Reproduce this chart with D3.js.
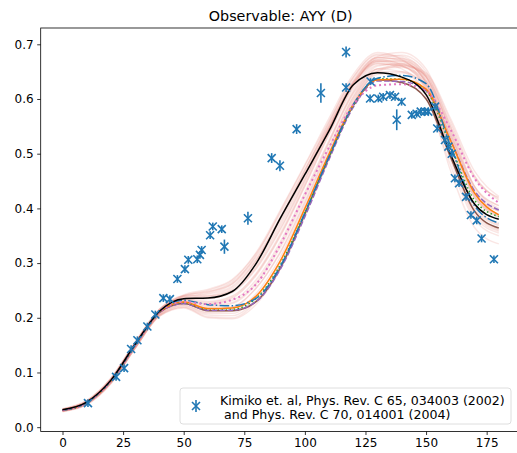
<!DOCTYPE html>
<html>
<head>
  <meta charset="utf-8">
  <script src="https://d3js.org/d3.v7.min.js"></script>
  <style>
    body { margin: 0; background: #fff; }
    text { font-family: "DejaVu Sans", sans-serif; }
    .axis text { font-size: 12px; fill: #000; }
    .axis path, .axis line { stroke: #000; stroke-width: 0.8px; }
  </style>
</head>
<body>
<div id="plot"></div>
<script type="text/javascript">
// angles of the model curves (deg)
var angles = [0, 10, 20, 30, 40, 50, 60, 70, 80, 90, 100, 110, 120, 130, 140, 150, 160, 170, 180];

// highlighted model curves
var blackCurve  = [0.032, 0.046, 0.086, 0.152, 0.212, 0.235, 0.236, 0.248, 0.300, 0.383, 0.462, 0.542, 0.626, 0.648, 0.640, 0.608, 0.500, 0.408, 0.380];
var orangeCurve = [0.031, 0.045, 0.085, 0.150, 0.211, 0.229, 0.217, 0.218, 0.240, 0.305, 0.400, 0.500, 0.590, 0.635, 0.636, 0.618, 0.525, 0.428, 0.388];
var blueCurve   = [0.031, 0.045, 0.085, 0.150, 0.212, 0.232, 0.224, 0.222, 0.236, 0.295, 0.392, 0.495, 0.590, 0.638, 0.643, 0.628, 0.515, 0.405, 0.373];
var greenCurve  = [0.031, 0.045, 0.085, 0.150, 0.211, 0.228, 0.216, 0.216, 0.236, 0.298, 0.392, 0.495, 0.588, 0.637, 0.636, 0.615, 0.515, 0.415, 0.385];
var purpleCurve = [0.031, 0.045, 0.085, 0.150, 0.210, 0.226, 0.214, 0.214, 0.230, 0.290, 0.385, 0.490, 0.585, 0.633, 0.632, 0.615, 0.525, 0.432, 0.397];
var brownCurve  = [0.031, 0.045, 0.085, 0.150, 0.210, 0.226, 0.213, 0.213, 0.230, 0.292, 0.390, 0.495, 0.588, 0.635, 0.630, 0.600, 0.495, 0.395, 0.364];
var pinkCurve   = [0.031, 0.045, 0.085, 0.150, 0.211, 0.229, 0.225, 0.233, 0.262, 0.335, 0.425, 0.512, 0.590, 0.625, 0.627, 0.615, 0.545, 0.455, 0.410];

// ensemble of sampled curves (light)
var ensemble = [
  [0.030,0.044,0.084,0.150,0.212,0.238,0.245,0.262,0.315,0.395,0.478,0.560,0.640,0.680,0.675,0.640,0.545,0.440,0.405],
  [0.033,0.047,0.087,0.153,0.214,0.242,0.252,0.270,0.320,0.398,0.480,0.565,0.645,0.685,0.672,0.630,0.520,0.420,0.390],
  [0.029,0.043,0.082,0.146,0.206,0.225,0.215,0.220,0.255,0.320,0.410,0.510,0.605,0.660,0.665,0.640,0.550,0.455,0.420],
  [0.031,0.045,0.085,0.150,0.210,0.230,0.225,0.232,0.270,0.340,0.430,0.525,0.615,0.665,0.660,0.625,0.520,0.420,0.385],
  [0.034,0.049,0.090,0.156,0.216,0.240,0.240,0.250,0.295,0.370,0.455,0.545,0.625,0.670,0.668,0.630,0.500,0.395,0.360],
  [0.028,0.041,0.080,0.144,0.203,0.218,0.200,0.198,0.225,0.290,0.385,0.490,0.590,0.650,0.660,0.645,0.560,0.460,0.415],
  [0.032,0.046,0.086,0.152,0.212,0.233,0.230,0.240,0.282,0.355,0.445,0.540,0.625,0.675,0.680,0.650,0.540,0.430,0.395],
  [0.030,0.044,0.083,0.148,0.208,0.228,0.220,0.226,0.262,0.330,0.420,0.520,0.610,0.655,0.650,0.605,0.480,0.380,0.350],
  [0.033,0.048,0.089,0.155,0.215,0.240,0.247,0.265,0.312,0.385,0.465,0.548,0.628,0.665,0.655,0.610,0.490,0.385,0.355],
  [0.029,0.042,0.081,0.145,0.205,0.222,0.208,0.208,0.240,0.305,0.398,0.500,0.597,0.650,0.650,0.620,0.510,0.405,0.370],
  [0.031,0.045,0.085,0.151,0.211,0.233,0.235,0.246,0.290,0.362,0.450,0.545,0.630,0.678,0.685,0.655,0.550,0.440,0.400],
  [0.032,0.046,0.087,0.153,0.213,0.236,0.238,0.252,0.300,0.375,0.460,0.550,0.632,0.672,0.662,0.615,0.470,0.365,0.335],
  [0.030,0.043,0.083,0.147,0.207,0.226,0.217,0.220,0.255,0.322,0.413,0.512,0.603,0.655,0.658,0.632,0.530,0.425,0.385],
  [0.033,0.047,0.088,0.154,0.214,0.238,0.243,0.258,0.305,0.382,0.468,0.555,0.636,0.676,0.670,0.628,0.505,0.400,0.368],
  [0.029,0.042,0.081,0.145,0.204,0.220,0.205,0.204,0.233,0.298,0.390,0.492,0.592,0.645,0.648,0.625,0.535,0.440,0.405],
  [0.031,0.045,0.084,0.149,0.209,0.230,0.226,0.236,0.278,0.350,0.440,0.535,0.620,0.668,0.670,0.640,0.530,0.425,0.388],
  [0.031,0.045,0.086,0.152,0.213,0.236,0.240,0.255,0.305,0.385,0.470,0.558,0.640,0.682,0.678,0.642,0.535,0.430,0.395],
  [0.030,0.043,0.082,0.146,0.205,0.223,0.210,0.212,0.245,0.312,0.405,0.505,0.600,0.655,0.662,0.642,0.555,0.458,0.418],
  [0.032,0.047,0.088,0.154,0.215,0.240,0.250,0.268,0.318,0.392,0.472,0.552,0.630,0.668,0.660,0.620,0.500,0.395,0.362],
  [0.030,0.044,0.084,0.149,0.209,0.229,0.222,0.228,0.265,0.335,0.425,0.522,0.612,0.662,0.664,0.635,0.528,0.422,0.383],
  [0.033,0.048,0.089,0.155,0.215,0.241,0.248,0.262,0.308,0.380,0.462,0.548,0.632,0.676,0.672,0.634,0.515,0.408,0.372],
  [0.029,0.042,0.080,0.144,0.203,0.219,0.202,0.200,0.230,0.295,0.388,0.492,0.593,0.652,0.662,0.648,0.565,0.468,0.422],
  [0.031,0.045,0.085,0.151,0.211,0.232,0.228,0.238,0.280,0.352,0.442,0.538,0.624,0.672,0.674,0.645,0.542,0.435,0.398],
  [0.032,0.046,0.086,0.152,0.212,0.235,0.236,0.248,0.292,0.365,0.452,0.545,0.628,0.670,0.665,0.622,0.498,0.390,0.358]
];

// measured data (Kimiko et al.)
var dataAngle = [10.5, 22.1, 25.4, 28.3, 30.9, 35.0, 38.3, 41.6, 44.3, 47.4, 50.5, 51.9, 55.6, 56.7, 57.4,
  60.9, 62.0, 65.7, 66.8, 76.5, 86.3, 89.7, 96.6, 106.6, 117.0, 117.0, 127.1, 126.9, 130.3, 132.3,
  135.1, 137.2, 139.9, 137.9, 144.1, 146.1, 147.8, 149.5, 150.9, 153.7, 154.6, 157.8, 159.2, 160.6,
  161.9, 163.6, 166.5, 168.5, 170.9, 172.9, 178.0];
var dataValue = [0.044, 0.092, 0.108, 0.143, 0.159, 0.184, 0.206, 0.236, 0.234, 0.271, 0.289, 0.306, 0.307, 0.315, 0.324,
  0.351, 0.367, 0.362, 0.330, 0.382, 0.492, 0.478, 0.545, 0.611, 0.686, 0.621, 0.632, 0.601, 0.601, 0.604,
  0.607, 0.604, 0.595, 0.562, 0.571, 0.573, 0.577, 0.577, 0.577, 0.586, 0.546, 0.525, 0.513, 0.500,
  0.455, 0.446, 0.421, 0.388, 0.378, 0.345, 0.307];
var dataError = [0.007, 0.007, 0.007, 0.007, 0.007, 0.007, 0.007, 0.007, 0.007, 0.007, 0.007, 0.007, 0.007, 0.007, 0.007,
  0.007, 0.007, 0.007, 0.013, 0.012, 0.009, 0.010, 0.009, 0.018, 0.010, 0.008, 0.006, 0.007, 0.007, 0.007,
  0.007, 0.007, 0.007, 0.019, 0.007, 0.007, 0.007, 0.007, 0.007, 0.007, 0.007, 0.007, 0.007, 0.007,
  0.007, 0.007, 0.007, 0.007, 0.007, 0.007, 0.007];

var xTicks = [0, 25, 50, 75, 100, 125, 150, 175];
var yTicks = [0.0, 0.1, 0.2, 0.3, 0.4, 0.5, 0.6, 0.7];

var W = 517, H = 453;
var margin = {top: 28, right: -3.6, bottom: 21.5, left: 40.7},
    width = W - margin.left - margin.right,
    height = H - margin.top - margin.bottom;

var svg = d3.select('#plot')
  .append('svg')
  .attr('width', W)
  .attr('height', H);

svg.append('text')
  .attr('x', margin.left + 240)
  .attr('y', 21)
  .style('text-anchor', 'middle')
  .style('font-size', '14.3px')
  .text('Observable: AYY (D)');

var g = svg.append('g')
  .attr('transform', 'translate(' + margin.left + ',' + margin.top + ')');

var xScale = d3.scaleLinear().domain([-9, 189]).range([0, width]);
var yScale = d3.scaleLinear().domain([-0.0079, 0.7298]).range([height, 0]);

var line = d3.line()
  .x(function(d, i){ return xScale(angles[i]); })
  .y(function(d){ return yScale(d); })
  .curve(d3.curveMonotoneX);

g.selectAll('.ens')
  .data(ensemble)
  .enter().append('path')
  .attr('class', 'ens')
  .attr('d', line)
  .attr('fill', 'none')
  .attr('stroke', '#e8837a')
  .attr('stroke-opacity', 0.2)
  .attr('stroke-width', 1.4);

var models = [
  {v: brownCurve,  c: '#8c564b', dash: null, w: 1.5},
  {v: purpleCurve, c: '#9467bd', dash: '5.5,2.4', w: 1.5},
  {v: greenCurve,  c: '#2ca02c', dash: '1.5,2.5', w: 1.5},
  {v: orangeCurve, c: '#ff7f0e', dash: null, w: 1.5},
  {v: blueCurve,   c: '#1f77b4', dash: '9.6,2.4,1.5,2.4', w: 1.5},
  {v: pinkCurve,   c: '#e377c2', dash: '2,3', w: 2},
  {v: blackCurve,  c: '#000000', dash: null, w: 1.5}
];

g.selectAll('.model')
  .data(models)
  .enter().append('path')
  .attr('class', 'model')
  .attr('d', function(d){ return line(d.v); })
  .attr('fill', 'none')
  .attr('stroke', function(d){ return d.c; })
  .attr('stroke-dasharray', function(d){ return d.dash; })
  .attr('stroke-width', function(d){ return d.w; });

// data with error bars
var pts = dataAngle.map(function(a, i){ return {x: a, y: dataValue[i], e: dataError[i]}; });
var blue = '#1f77b4';

var pt = g.selectAll('.pt')
  .data(pts)
  .enter().append('g')
  .attr('class', 'pt')
  .attr('transform', function(d){ return 'translate(' + xScale(d.x) + ',' + yScale(d.y) + ')'; });

pt.append('line')
  .attr('x1', 0).attr('x2', 0)
  .attr('y1', function(d){ return yScale(d.y + d.e) - yScale(d.y); })
  .attr('y2', function(d){ return yScale(d.y - d.e) - yScale(d.y); })
  .attr('stroke', blue).attr('stroke-width', 1.6);

function cross(sel){
  sel.append('path')
    .attr('d', 'M-4,-4L4,4M-4,4L4,-4')
    .attr('stroke', blue).attr('stroke-width', 1.6).attr('fill', 'none');
}
cross(pt);

// axes
var xAxis = d3.axisBottom(xScale).tickValues(xTicks).tickSize(3.5).tickPadding(3.5).tickFormat(d3.format('d'));
var yAxis = d3.axisLeft(yScale).tickValues(yTicks).tickSize(3.5).tickPadding(3.5).tickFormat(d3.format('.1f'));

g.append('g')
  .attr('class', 'x axis')
  .attr('transform', 'translate(0,' + height + ')')
  .call(xAxis)
  .call(function(s){ s.select('.domain').remove(); });

g.append('g')
  .attr('class', 'y axis')
  .call(yAxis)
  .call(function(s){ s.select('.domain').remove(); });

g.append('rect')
  .attr('width', width)
  .attr('height', height)
  .attr('fill', 'none')
  .attr('stroke', '#000')
  .attr('stroke-width', 0.8);

// legend
var legend = svg.append('g').attr('transform', 'translate(180,388)');
legend.append('rect')
  .attr('width', 331).attr('height', 36)
  .attr('rx', 3)
  .attr('fill', '#fff').attr('fill-opacity', 0.8)
  .attr('stroke', '#d5d5d5').attr('stroke-width', 0.8);

var lm = legend.append('g').attr('transform', 'translate(16,18)');
lm.append('line').attr('x1', 0).attr('x2', 0).attr('y1', -6).attr('y2', 6)
  .attr('stroke', blue).attr('stroke-width', 1.6);
cross(lm);

legend.append('text')
  .attr('x', 40).attr('y', 17)
  .style('font-size', '12.6px')
  .text('Kimiko et. al, Phys. Rev. C 65, 034003 (2002)');
legend.append('text')
  .attr('x', 40).attr('y', 31)
  .style('font-size', '12.6px')
  .style('white-space', 'pre')
  .text(' and Phys. Rev. C 70, 014001 (2004)');
</script>
</body>
</html>
